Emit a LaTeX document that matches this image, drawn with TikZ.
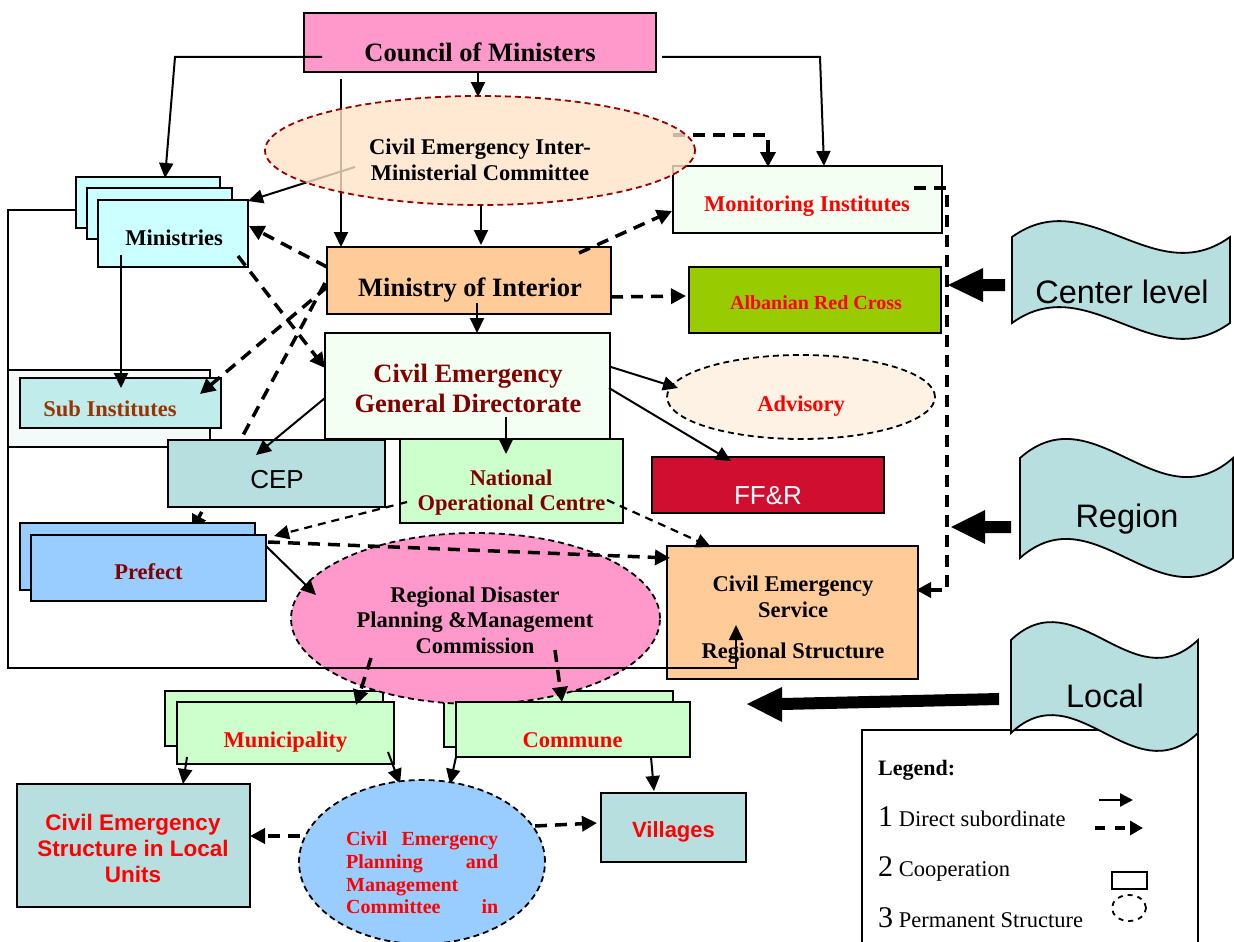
\documentclass[tikz,border=0pt]{standalone}
\usepackage{fontspec}
\setmainfont{Liberation Serif}
\newfontfamily\arialf{Liberation Sans}
\usetikzlibrary{arrows.meta,fit,shapes.geometric}
\definecolor{pinkc}{HTML}{FF99CC}
\definecolor{peachc}{HTML}{FFE3C8}
\definecolor{cyanc}{HTML}{CCFFFF}
\definecolor{palegreen}{HTML}{F3FFF3}
\definecolor{orangec}{HTML}{FFCC99}
\definecolor{limec}{HTML}{99CC00}
\definecolor{advc}{HTML}{FDF2E4}
\definecolor{subin}{HTML}{C0ECEC}
\definecolor{subout}{HTML}{F4FAFA}
\definecolor{tealc}{HTML}{B8DFE0}
\definecolor{greenc}{HTML}{CCFFCC}
\definecolor{crimsonc}{HTML}{D00F30}
\definecolor{bluec}{HTML}{99CCFF}
\definecolor{darkred}{HTML}{800000}
\definecolor{brownc}{HTML}{993300}
\definecolor{ellred}{HTML}{990000}
\newcommand\wavebanner[5]{%
 \filldraw[fill=tealc, draw=black, line width=1.8pt] (#1,#3) .. controls ({#1+0.35*(#2-#1)},{#3-#5}) and ({#1+0.65*(#2-#1)},{#3+#5}) .. (#2,#3) -- (#2,#4) .. controls ({#1+0.65*(#2-#1)},{#4+#5}) and ({#1+0.35*(#2-#1)},{#4-#5}) .. (#1,#4) -- cycle;}
\tikzset{
 bx/.style={draw=black, line width=1.8pt, inner sep=0pt},
 tx/.style={anchor=base, inner sep=0pt, font=\bfseries\fontsize{22.5}{27}\selectfont},
 txl/.style={anchor=base, inner sep=0pt, font=\bfseries\fontsize{26.5}{30}\selectfont},
 txa/.style={anchor=base, inner sep=0pt, font=\arialf\fontsize{26}{30}\selectfont},
 txab/.style={anchor=base, inner sep=0pt, font=\arialf\bfseries\fontsize{22.5}{27}\selectfont, text=red},
 sa/.style={line width=2pt, -{Triangle[length=15pt,width=14pt]}},
 da/.style={line width=3.5pt, dash pattern=on 12pt off 8pt, -{Triangle[length=15pt,width=15pt]}},
 tda/.style={line width=2.2pt, dash pattern=on 8pt off 6pt, -{Triangle[length=15pt,width=14pt]}},
 el/.style={ellipse, draw=black, line width=1.8pt, dash pattern=on 6pt off 4pt, inner sep=0pt},
}
\begin{document}
\begin{tikzpicture}[x=1pt,y=-1pt]
\useasboundingbox (0,0) rectangle (1234,942);
% Council
\node[bx, fill=pinkc, fit={(304,13)(656,72)}] (council) {};
\node[txl] (tcouncil) at (480,62) {Council of Ministers};
% Monitoring
\node[bx, fill=palegreen, fit={(673,166)(942,233)}] (monit) {};
\node[tx, text=red] (tmonit) at (807,211) {Monitoring Institutes};
% lines under committee ellipse
\draw[sa] (341,79) -- (341,247);
\draw[sa] (355,167) -- (248,201);
\draw[da] (673,135) -- (768,135) -- (768,167);
% committee ellipse
\node[ellipse, draw=ellred, line width=1.8pt, dash pattern=on 6pt off 4pt, fill=peachc, fill opacity=0.8, minimum width=430pt, minimum height=109pt, inner sep=0pt] (cimc) at (480,150.5) {};
\node[tx] (tcimc1) at (480,154) {Civil Emergency Inter-};
\node[tx] (tcimc2) at (480,180) {Ministerial Committee};
% Ministries
\node[bx, fill=cyanc, fit={(76,177)(220,228)}] (min3) {};
\node[bx, fill=cyanc, fit={(87,188)(232,239)}] (min2) {};
\node[bx, fill=cyanc, fit={(98,200)(248,267)}] (min1) {};
\node[tx] (tmin) at (174,245) {Ministries};
% Ministry of Interior
\node[bx, fill=orangec, fit={(327,247)(611,314)}] (moi) {};
\node[txl] (tmoi) at (470,296) {Ministry of Interior};
% Albanian Red Cross
\node[bx, fill=limec, fit={(689,267)(941,333)}] (arc) {};
\node[anchor=base, inner sep=0pt, font=\bfseries\fontsize{20}{24}\selectfont, text=red] (tarc) at (816,309) {Albanian Red Cross};
% CEGD
\node[bx, fill=palegreen, fit={(325,333)(610,439)}] (cegd) {};
\node[txl, text=darkred] (tcegd1) at (468,382) {Civil Emergency};
\node[txl, text=darkred] (tcegd2) at (468,412) {General Directorate};
% Advisory
\node[el, fill=advc, minimum width=268pt, minimum height=84pt] (adv) at (801,397) {};
\node[tx, text=red] (tadv) at (801,411) {Advisory};
% Sub institutes
\node[bx, fill=subout, fit={(8,370)(210,447)}] (subo) {};
\node[bx, fill=subin, fit={(20,378)(221,428)}] (subi) {};
\node[tx, text=brownc] (tsub) at (110,416) {Sub Institutes};
% FF&R
\node[bx, fill=crimsonc, fit={(652,457)(884,513)}] (ffr) {};
\node[txa, text=white] (tffr) at (768,504) {FF\&R};
% MoI -> Prefect (under CEP)
\draw[da] (325,283) -- (192,530);
% CEP
\node[bx, fill=tealc, fit={(168,440)(385,507)}] (cep) {};
\node[txa] (tcep) at (277,488) {CEP};
% NOC
\node[bx, fill=greenc, fit={(400,439)(623,523)}] (noc) {};
\node[tx, text=darkred] (tnoc1) at (511,485) {National};
\node[tx, text=darkred] (tnoc2) at (511.5,510) {Operational Centre};
% Prefect
\node[bx, fill=bluec, fit={(20,523)(255,590)}] (pre2) {};
\node[bx, fill=bluec, fit={(31,535)(266,601)}] (pre1) {};
\node[tx, text=darkred] (tpre) at (148.5,579) {Prefect};
% CES
\node[bx, fill=orangec, fit={(667,546)(918,679)}] (ces) {};
\node[tx] (tces1) at (793,591) {Civil Emergency};
\node[tx] (tces2) at (793,617) {Service};
\node[tx] (tces3) at (793,658) {Regional Structure};
% back boxes of municipality / commune
\node[bx, fill=greenc, fit={(165,691)(383,746)}] (mun2) {};
\node[bx, fill=greenc, fit={(444,691)(673,747)}] (com2) {};
% Regional disaster ellipse
\node[el, fill=pinkc, minimum width=369pt, minimum height=171pt] (rd) at (475.5,618.5) {};
\node[tx] (trd1) at (475,602) {Regional Disaster};
\node[tx] (trd2) at (475,627) {Planning \&Management};
\node[tx] (trd3) at (475,653) {Commission};
% front boxes
\node[bx, fill=greenc, fit={(177,702)(394,764)}] (mun1) {};
\node[tx, text=red] (tmun) at (285.5,747) {Municipality};
\node[bx, fill=greenc, fit={(456,702)(690,757)}] (com1) {};
\node[tx, text=red] (tcom) at (572.5,747) {Commune};
% outline
\draw[line width=1.6pt, -{Triangle[length=15pt,width=14pt]}] (76,210) -- (8,210) -- (8,668) -- (736,668) -- (736,625);
% solid arrows
\draw[sa] (322,57) -- (175,57) -- (165,178);
\draw[sa] (662,57) -- (820,57) -- (824,166);
\draw[sa] (478,73) -- (478,97);
\draw[sa] (481,205) -- (481,245);
\draw[sa] (121,255) -- (121,388);
\draw[sa] (325,398) -- (256,455);
\draw[sa] (477,303) -- (477,333);
\draw[sa] (506,417) -- (506,454);
\draw[sa] (611,367) -- (678,388);
\draw[sa] (609,388) -- (731,461);
\draw[sa] (266,546) -- (316,595);
\draw[sa] (187,757) -- (183,784);
\draw[sa] (388,752) -- (400,784);
\draw[sa] (456,757) -- (450,784);
\draw[sa] (651,757) -- (654,791);
% dashed arrows
\draw[da] (579,253) -- (672,211);
\draw[da] (611,297) -- (686,296);
\draw[da] (327,267) -- (249,226);
\draw[da] (238,256) -- (325,368);
\draw[da] (327,287) -- (200,394);
\draw[da] (268,542) -- (670,558);
\draw[da] (371,658) -- (356,705);
\draw[da] (555,650) -- (562,702);
\draw[da] (914,188) -- (947,188) -- (947,590) -- (916,590);
\draw[tda] (407,502) -- (274,536);
\draw[tda] (607,500) -- (711,547);
% bottom boxes
\node[bx, fill=tealc, fit={(17,784)(250,907)}] (cesl) {};
\node[txab] (tcesl1) at (133,830) {Civil Emergency};
\node[txab] (tcesl2) at (133,856) {Structure in Local};
\node[txab] (tcesl3) at (133,882) {Units};
\node[bx, fill=tealc, fit={(601,793)(746,862)}] (vill) {};
\node[anchor=base, inner sep=0pt, font=\arialf\bfseries\fontsize{22}{26}\selectfont, text=red] (tvill) at (673.5,837) {Villages};
\node[el, fill=bluec, minimum width=246pt, minimum height=164pt] (cepmc) at (422,862) {};
\begin{scope}[every node/.style={anchor=base west, inner sep=0pt, font=\bfseries\fontsize{20}{22}\selectfont, text=red}]
\node (tcp1) at (346,845) {\makebox[152pt]{Civil\hfill Emergency}};
\node (tcp2) at (346,868) {\makebox[152pt]{Planning\hfill and}};
\node (tcp3) at (346,891) {\makebox[152pt][l]{Management}};
\node (tcp4) at (346,913) {\makebox[152pt]{Committee\hfill in}};
\end{scope}
\draw[da] (300,836) -- (250,836);
\draw[da] (535,826) -- (597,823);
% legend
\node[bx, fill=white, fit={(862,730)(1198,960)}] (legend) {};
\node[anchor=base west, inner sep=0pt, font=\bfseries\fontsize{22}{26}\selectfont] (tleg) at (878,775) {Legend:};
\node[anchor=base west, inner sep=0pt, font=\fontsize{22.5}{26}\selectfont] (tleg1) at (878,826) {{\fontsize{30}{30}\selectfont 1} Direct subordinate};
\node[anchor=base west, inner sep=0pt, font=\fontsize{22.5}{26}\selectfont] (tleg2) at (878,876) {{\fontsize{30}{30}\selectfont 2} Cooperation};
\node[anchor=base west, inner sep=0pt, font=\fontsize{22.5}{26}\selectfont] (tleg3) at (878,927) {{\fontsize{30}{30}\selectfont 3} Permanent Structure};
\coordinate (ls1) at (1099,800); \coordinate (le1) at (1133,800);
\coordinate (ls2) at (1095,828); \coordinate (le2) at (1143,828);
\draw[line width=2.5pt, -{Triangle[length=13pt,width=13pt]}] (ls1) -- (le1);
\draw[line width=3.5pt, dash pattern=on 10pt off 10pt, -{Triangle[length=13pt,width=14pt]}] (ls2) -- (le2);
\node[draw, line width=1.8pt, fit={(1112,872)(1147,889)}, inner sep=0pt] (legrect) {};
\node[ellipse, draw, line width=1.8pt, dash pattern=on 5pt off 5pt, minimum width=34pt, minimum height=26pt, inner sep=0pt] (legell) at (1129,908) {};
% block arrows
\fill (948,285) -- (983,268) -- (983,279) -- (1005,279) -- (1005,291) -- (983,291) -- (983,302) -- cycle;
\fill (951,527) -- (985,510) -- (985,521) -- (1011,521) -- (1011,533) -- (985,533) -- (985,544) -- cycle;
\fill (747,704) -- (782,687) -- (782,698) -- (999,693) -- (999,705) -- (782,710) -- (782,722) -- cycle;
% banners
\wavebanner{1012}{1230}{237}{323}{55}
\node[anchor=base, inner sep=0pt, font=\arialf\fontsize{32.5}{36}\selectfont] (tcenter) at (1122,303) {Center level};
\wavebanner{1020}{1233}{458}{558}{66}
\node[anchor=base, inner sep=0pt, font=\arialf\fontsize{32.5}{36}\selectfont] (tregion) at (1127,527) {Region};
\wavebanner{1011}{1198}{640}{733}{62}
\node[anchor=base, inner sep=0pt, font=\arialf\fontsize{32.5}{36}\selectfont] (tlocal) at (1105,707) {Local};
\end{tikzpicture}
\end{document}
